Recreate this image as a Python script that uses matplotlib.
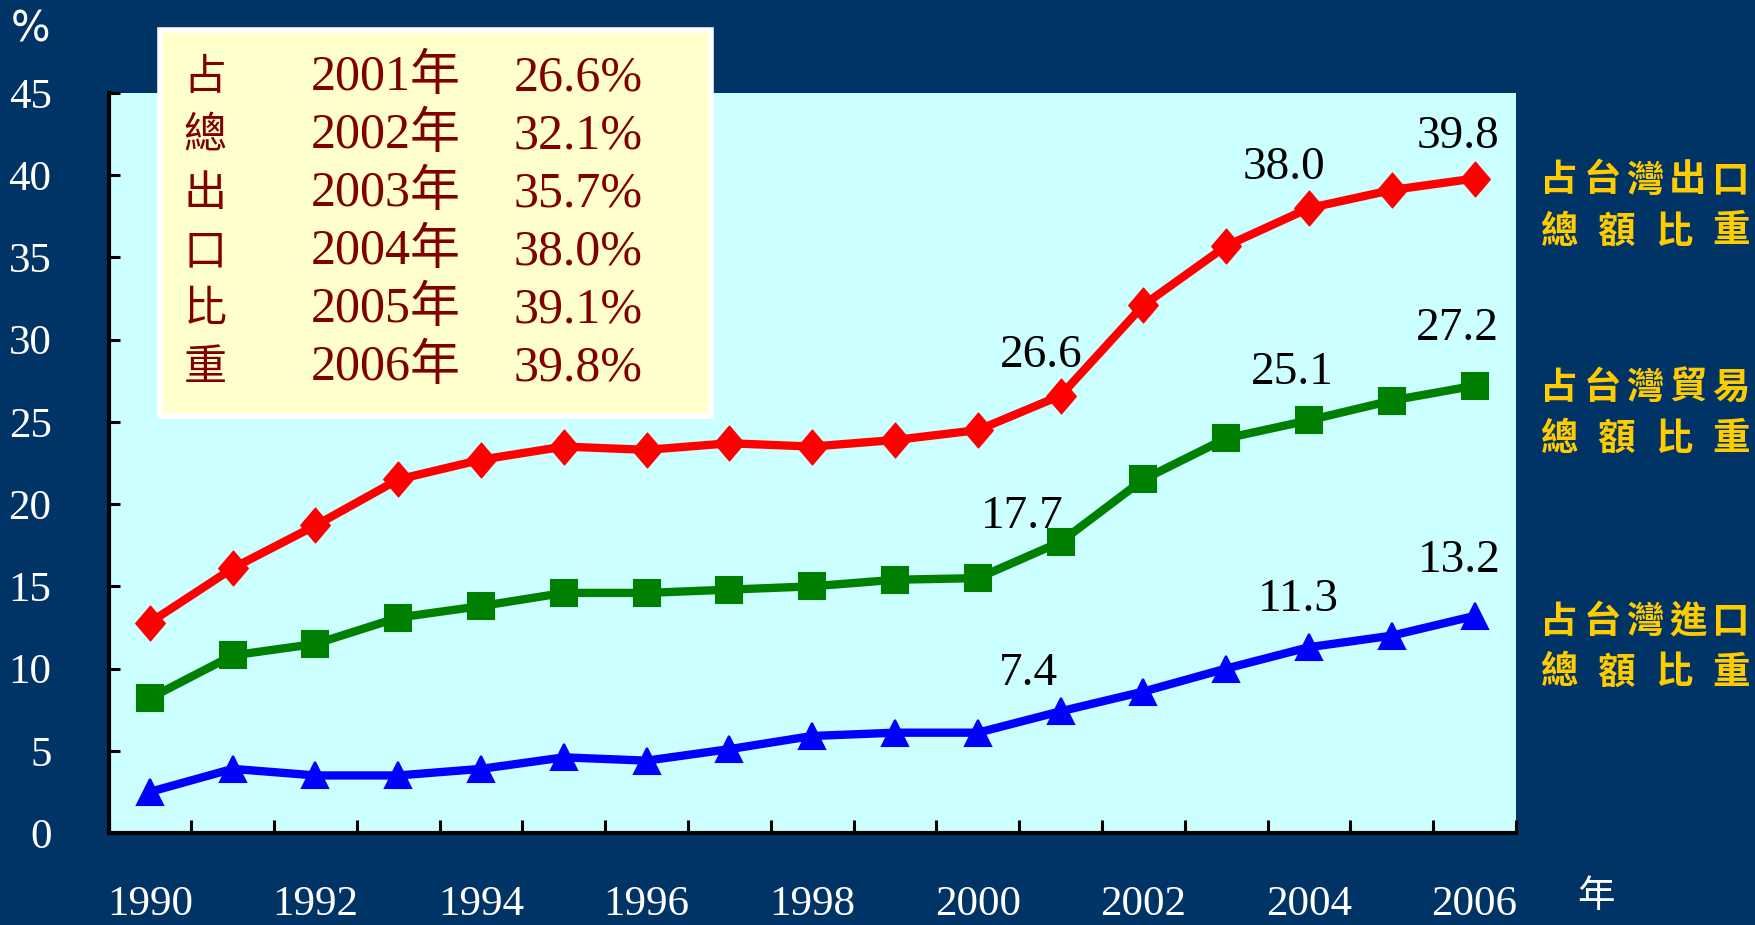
import numpy as np
import matplotlib.pyplot as plt
from matplotlib.patches import Rectangle
from matplotlib.path import Path

# Data
years = list(range(1990, 2007))
export_share = [12.8, 16.1, 18.7, 21.5, 22.7, 23.5, 23.3, 23.7, 23.5, 23.9,
                24.5, 26.6, 32.1, 35.7, 38.0, 39.1, 39.8]
trade_share = [8.2, 10.8, 11.5, 13.1, 13.8, 14.6, 14.6, 14.8, 15.0, 15.4,
               15.5, 17.7, 21.5, 24.0, 25.1, 26.3, 27.2]
import_share = [2.5, 3.9, 3.5, 3.5, 3.9, 4.6, 4.4, 5.1, 5.9, 6.1,
                6.1, 7.4, 8.6, 10.0, 11.3, 12.0, 13.2]

box_chars = ["占", "總", "出", "口", "比", "重"]
box_years = ["2001年", "2002年", "2003年", "2004年", "2005年", "2006年"]
box_values = ["26.6%", "32.1%", "35.7%", "38.0%", "39.1%", "39.8%"]

side_labels = [("占台灣出口", "總額比重"),
               ("占台灣貿易", "總額比重"),
               ("占台灣進口", "總額比重")]

# Style
W, H = 1755, 925
navy = "#003366"
serif = ["Liberation Serif", "Noto Sans CJK TC"]
cjk = ["Noto Sans CJK TC", "DejaVu Sans"]

fig = plt.figure(figsize=(W / 100, H / 100), dpi=100, facecolor=navy)
ax = fig.add_axes([108.5 / W, 1 - 833 / H, (1516 - 108.5) / W, (833 - 93) / H])
ax.set_facecolor("#CCFFFF")

diamond = Path([(0, 1), (0.85, 0), (0, -1), (-0.85, 0), (0, 1)],
               [Path.MOVETO, Path.LINETO, Path.LINETO, Path.LINETO, Path.CLOSEPOLY])

ax.plot(years, export_share, color="#FF0000", lw=6, marker=diamond, ms=25,
        mec="#FF0000", mew=1, zorder=3)
ax.plot(years, trade_share, color="#008000", lw=6, marker="s", ms=19,
        mec="#008000", mew=1.5, zorder=3)
ax.plot(years, import_share, color="#0000FF", lw=6, marker="^", ms=19,
        mec="#0000FF", mew=1.5, zorder=3)

# value callouts (year, offset in pixels)
callouts = [
    (export_share, 2001, (-19, 40)), (export_share, 2004, (-25, 40)), (export_share, 2006, (-17, 42)),
    (trade_share, 2001, (-38, 25)), (trade_share, 2004, (-17, 47)), (trade_share, 2006, (-17, 57)),
    (import_share, 2001, (-32, 38)), (import_share, 2004, (-11, 47)), (import_share, 2006, (-15, 55)),
]
for series, yr, off in callouts:
    v = series[years.index(yr)]
    ax.annotate(f"{v:.1f}", (yr, v), xytext=off, textcoords="offset pixels",
                ha="center", va="center", fontsize=34, family=serif,
                color="black", zorder=5)

ax.set_xlim(1989.5, 2006.5)
ax.set_ylim(0, 45)

ax.set_yticks(np.arange(0, 46, 5))
ax.tick_params(axis="y", direction="in", length=8, width=2.2, color="black",
               labelcolor="white", labelsize=31, pad=41)
ax.set_xticks(years[::2])
ax.set_xticks(np.arange(1989.5, 2007, 1), minor=True)
ax.tick_params(axis="x", which="major", length=0, labelcolor="white",
               labelsize=31, pad=38)
ax.tick_params(axis="x", which="minor", direction="in", length=9.5, width=2.2,
               color="black")
for lab in ax.get_xticklabels() + ax.get_yticklabels():
    lab.set_family(serif)

for s in ["top", "right"]:
    ax.spines[s].set_visible(False)
for s in ["left", "bottom"]:
    ax.spines[s].set_linewidth(3)
    ax.spines[s].set_color("black")

fig.text(31 / W, 1 - 30 / H, "%", color="white", fontsize=30,
         ha="center", va="center", family="DejaVu Sans")
fig.text(1596 / W, 1 - 897 / H, "年", color="white", fontsize=27,
         ha="center", va="center", family=cjk)

# boxed summary in the upper left
box = Rectangle((160 / W, 1 - 416 / H), 551 / W, 386 / H, transform=fig.transFigure,
                facecolor="#FFFFCC", edgecolor="white", lw=4, zorder=4)
fig.add_artist(box)
for i in range(len(box_chars)):
    y = 1 - (78 + i * 58) / H
    fig.text(205 / W, y, box_chars[i], color="#800000", fontsize=31,
             fontweight="medium", ha="center", va="center", family=cjk, zorder=5)
    fig.text(311 / W, y, box_years[i], color="#800000", fontsize=36,
             ha="left", va="center", family=serif, zorder=5)
    fig.text(643 / W, y, box_values[i], color="#800000", fontsize=36,
             ha="right", va="center", family=serif, zorder=5)

# right-side series names, spread evenly across the same width
def spread_text(s, y, x0=1540, x1=1750, cw=38):
    xs = np.linspace(x0 + cw / 2, x1 - cw / 2, len(s))
    for ch, x in zip(s, xs):
        fig.text(x / W, 1 - y / H, ch, color="#FFCC00", fontsize=27,
                 fontweight="bold", ha="center", va="center", family=cjk)

for (l1, l2), y in zip(side_labels, [180, 387, 621]):
    spread_text(l1, y)
    spread_text(l2, y + 51)

fig.savefig("out.png", dpi=100, facecolor=navy)
